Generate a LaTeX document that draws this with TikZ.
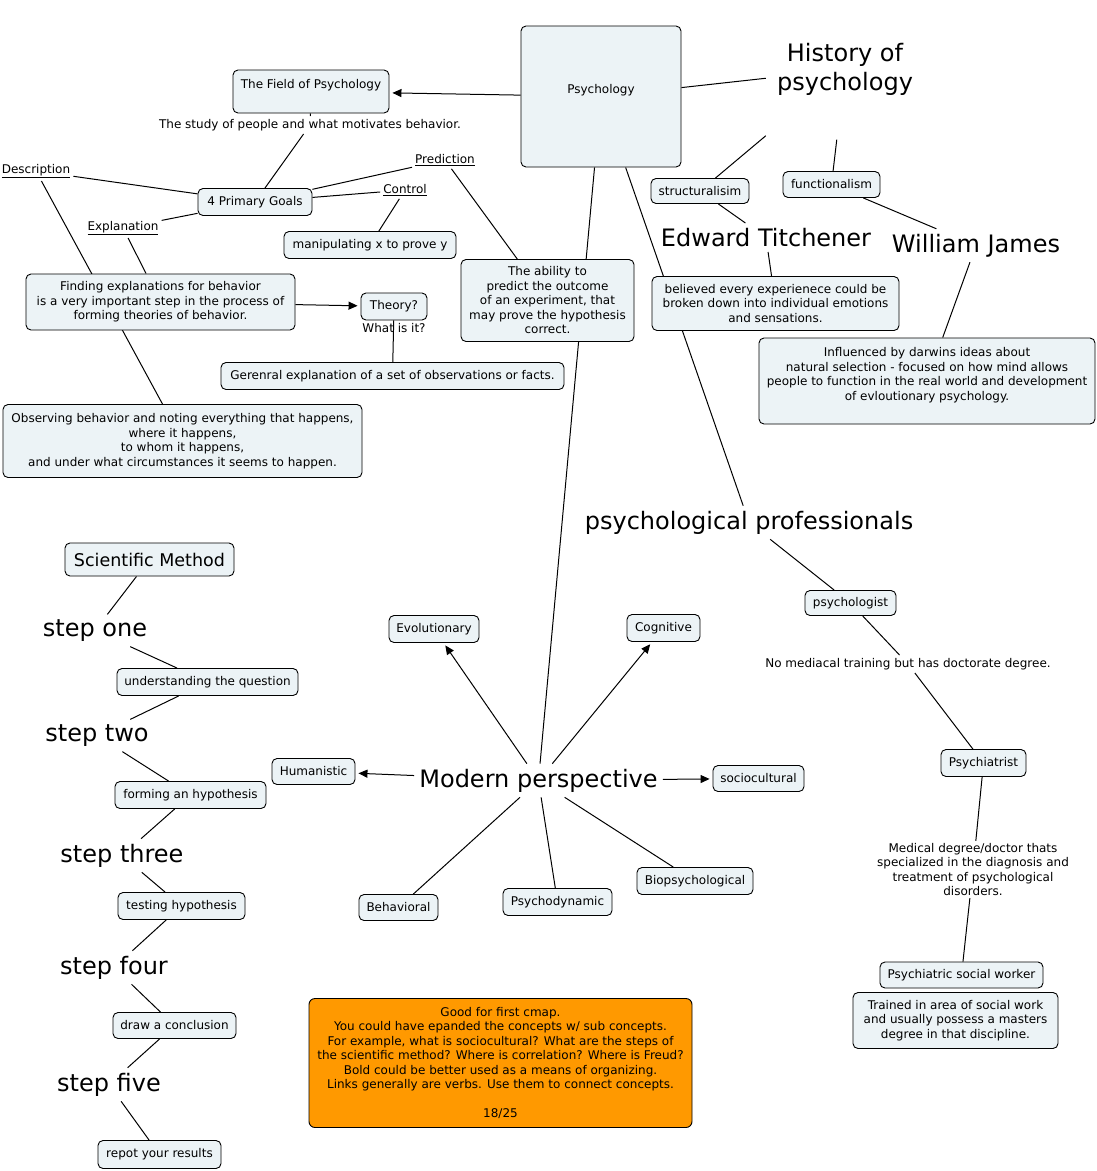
\documentclass[tikz,border=0pt]{standalone}
\usepackage{fontspec}
\setmainfont{DejaVu Sans}
\usetikzlibrary{positioning, arrows.meta, backgrounds}
\definecolor{conceptfill}{RGB}{236,243,246}
\definecolor{notefill}{RGB}{255,153,0}

\begin{document}
\begin{tikzpicture}[
  x=1pt, y=-1pt,
  font=\fontsize{12}{14.5}\selectfont,
  concept/.style={
    draw=black,
    line width=0.9pt,
    fill=conceptfill,
    rounded corners=5pt,
    align=center,
    inner xsep=4pt,
    inner ysep=3pt,
    minimum height=27pt,
  },
  notebox/.style={
    draw=black,
    line width=0.9pt,
    fill=notefill,
    rounded corners=6pt,
    align=center,
  },
  phrase/.style={
    align=center,
    inner sep=3pt,
  },
  bigphrase/.style={
    font=\fontsize{24}{29}\selectfont,
    align=center,
    inner sep=5pt,
    yshift=-2.5pt,
  },
  link/.style={draw=black, line width=1pt},
  arrowlink/.style={link, -{Triangle[length=9pt,width=8pt]}, shorten >=3pt},
]
  \useasboundingbox (0,0) rectangle (1097,1171);

  % === Psychology and its field ===
  \node[concept, minimum width=160pt, minimum height=141pt, text depth=16pt] (psy) at (601,96.5) {Psychology};
  \node[concept, minimum width=156pt, minimum height=43pt, text depth=15pt] (field) at (311,91.5) {The Field of Psychology};
  \node[phrase] (study) at (310,125) {The study of people and what motivates behavior.};
  \node[concept, minimum width=114pt] (goals) at (255,202) {4 Primary Goals};
  \node[phrase] (desc) at (36,171) {\underline{Description}};
  \node[phrase] (pred) at (445,160) {\underline{Prediction}};
  \node[phrase] (ctrl) at (405,190) {\underline{Control}};
  \node[phrase] (expl) at (123,228) {\underline{Explanation}};
  \node[concept, minimum width=172pt] (manip) at (370,245) {manipulating x to prove y};
  \node[concept, minimum width=269pt, minimum height=56pt] (find) at (160.5,302) {Finding explanations for behavior\\is a very important step in the process of\\forming theories of behavior.};
  \node[concept, minimum width=66pt] (theory) at (394,306.5) {Theory?};
  \node[phrase, below=2pt of theory, inner sep=1pt] (whatis) {What is it?};
  \node[concept, minimum width=343pt] (general) at (392.5,376) {Gerenral explanation of a set of observations or facts.};
  \node[concept, minimum width=359pt, minimum height=73pt] (observe) at (182.5,441) {Observing behavior and noting everything that happens,\\where it happens,\\to whom it happens,\\and under what circumstances it seems to happen.};
  \node[concept, minimum width=173pt, minimum height=82pt] (ability) at (547.5,300.5) {The ability to\\predict the outcome\\of an experiment, that\\may prove the hypothesis\\correct.};

  % === History ===
  \node[bigphrase, minimum width=158pt, minimum height=140pt] (history) at (845,67) {History of\\psychology};
  \node[concept, minimum width=98pt, minimum height=25pt] (struct) at (700,191) {structuralisim};
  \node[concept, minimum width=97pt, minimum height=26pt] (funct) at (831.5,184.5) {functionalism};
  \node[bigphrase] (titchener) at (766,235) {Edward Titchener};
  \node[bigphrase] (james) at (976,243) {William James};
  \node[concept, minimum width=247pt, minimum height=54pt] (believed) at (775.5,303.5) {believed every experienece could be\\broken down into individual emotions\\and sensations.};
  \node[concept, minimum width=336pt, minimum height=86pt] (darwin) at (927,381) {Influenced by darwins ideas about\\natural selection - focused on how mind allows\\people to function in the real world and development\\of evloutionary psychology.\\ \mbox{}};

  % === Professionals ===
  \node[bigphrase] (prof) at (749,520) {psychological professionals};
  \node[concept, minimum width=91pt, minimum height=25pt] (psychologist) at (850.5,603) {psychologist};
  \node[phrase] (nomed) at (908,664) {No mediacal training but has doctorate degree.};
  \node[concept, minimum width=85pt] (psychiatrist) at (983.5,763) {Psychiatrist};
  \node[phrase, inner sep=2pt] (meddeg) at (973,869.5) {Medical degree/doctor thats\\specialized in the diagnosis and\\treatment of psychological\\disorders.};
  \node[concept, minimum width=163pt, minimum height=26pt] (socialw) at (961.5,975) {Psychiatric social worker};
  \node[concept, minimum width=205pt, minimum height=56pt] (trained) at (955.5,1020.5) {Trained in area of social work\\and usually possess a masters\\degree in that discipline.};

  % === Modern perspectives ===
  \node[bigphrase] (modern) at (538.5,778) {Modern perspective};
  \node[concept, minimum width=90pt] (evol) at (434,629) {Evolutionary};
  \node[concept, minimum width=73pt] (cogn) at (663.5,628) {Cognitive};
  \node[concept, minimum width=83pt, minimum height=26pt] (human) at (313.5,771.5) {Humanistic};
  \node[concept, minimum width=91pt, minimum height=26pt] (socio) at (758.5,778.5) {sociocultural};
  \node[concept, minimum width=79pt, minimum height=26pt] (behav) at (398.5,907.5) {Behavioral};
  \node[concept, minimum width=109pt] (psydyn) at (557.5,902) {Psychodynamic};
  \node[concept, minimum width=116pt] (biopsy) at (695,881) {Biopsychological};

  % === Scientific method ===
  \node[concept, minimum width=169pt, minimum height=33pt, font=\fontsize{17.5}{20}\selectfont] (scimeth) at (149.5,559.5) {Scientific Method};
  \node[bigphrase] (s1) at (95,628) {step one};
  \node[concept, minimum width=181pt] (s1do) at (207.5,682) {understanding the question};
  \node[bigphrase] (s2) at (97,733) {step two};
  \node[concept, minimum width=151pt] (s2do) at (190.5,795) {forming an hypothesis};
  \node[bigphrase] (s3) at (122,853) {step three};
  \node[concept, minimum width=127pt] (s3do) at (181.5,906) {testing hypothesis};
  \node[bigphrase] (s4) at (114,965) {step four};
  \node[concept, minimum width=123pt, minimum height=26pt] (s4do) at (174.5,1025.5) {draw a conclusion};
  \node[bigphrase] (s5) at (109,1082) {step five};
  \node[concept, minimum width=123pt, minimum height=28pt] (s5do) at (159.5,1154.5) {repot your results};

  % Grading note
  \node[notebox, minimum width=383pt, minimum height=129pt] (note) at (500.5,1063) {Good for first cmap.\\You could have epanded the concepts w/ sub concepts.\\For example, what is sociocultural? What are the steps of\\the scientific method? Where is correlation? Where is Freud?\\Bold could be better used as a means of organizing.\\Links generally are verbs. Use them to connect concepts.\\ \mbox{}\\18/25};

  % Links (behind the boxes)
  \begin{scope}[on background layer]
    \fill[white] (0,0) rectangle (1097,1171);
    \draw[arrowlink] (psy) -- (field);
    \draw[link] (field) -- (study);
    \draw[link] (study) -- (goals);
    \draw[link] (desc) -- (goals);
    \draw[link] (goals) -- (pred);
    \draw[link] (goals) -- (ctrl);
    \draw[link] (goals) -- (expl);
    \draw[link] (ctrl) -- (manip);
    \draw[link] (pred) -- (ability);
    \draw[link] (expl) -- (find);
    \draw[link] (desc) -- (observe);
    \draw[arrowlink] (find) -- (theory);
    \draw[link] (theory) -- (general);
    \draw[link] (psy) -- (modern);
    \draw[link] (psy) -- (prof);
    \draw[link] (psy) -- (history);
    \draw[link] (history) -- (struct);
    \draw[link] (history) -- (funct);
    \draw[link] (struct) -- (titchener);
    \draw[link] (funct) -- (james);
    \draw[link] (titchener) -- (believed);
    \draw[link] (james) -- (darwin);
    \draw[link] (prof) -- (psychologist);
    \draw[link] (psychologist) -- (nomed);
    \draw[link] (nomed) -- (psychiatrist);
    \draw[link] (psychiatrist) -- (meddeg);
    \draw[link] (meddeg) -- (socialw);
    \draw[arrowlink] (modern) -- (evol);
    \draw[arrowlink] (modern) -- (cogn);
    \draw[arrowlink] (modern) -- (human);
    \draw[arrowlink] (modern) -- (socio);
    \draw[link] (modern) -- (behav);
    \draw[link] (modern) -- (psydyn);
    \draw[link] (modern) -- (biopsy);
    \draw[link] (scimeth) -- (s1);
    \draw[link] (s1) -- (s1do);
    \draw[link] (s1do) -- (s2);
    \draw[link] (s2) -- (s2do);
    \draw[link] (s2do) -- (s3);
    \draw[link] (s3) -- (s3do);
    \draw[link] (s3do) -- (s4);
    \draw[link] (s4) -- (s4do);
    \draw[link] (s4do) -- (s5);
    \draw[link] (s5) -- (s5do);
  \end{scope}

\end{tikzpicture}
\end{document}
